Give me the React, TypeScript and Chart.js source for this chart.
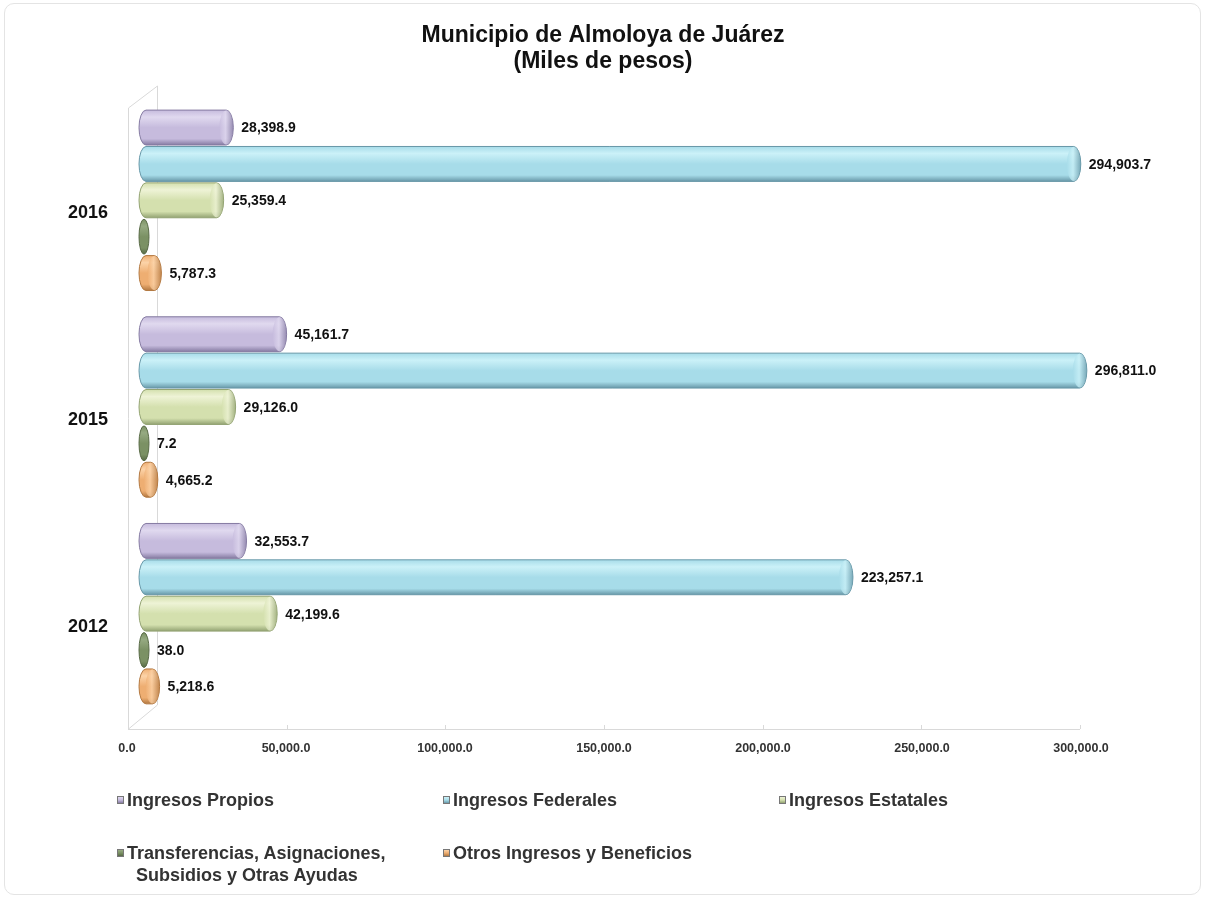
import React, { useEffect, useRef } from "react";
import { Chart, registerables } from "chart.js";

Chart.register(...registerables);

const categories = ["2016", "2015", "2012"];
const seriesNames = [
  "Ingresos Propios",
  "Ingresos Federales",
  "Ingresos Estatales",
  "Transferencias, Asignaciones, Subsidios y Otras Ayudas",
  "Otros Ingresos y Beneficios",
];
const ingresosPropios = [28398.9, 45161.7, 32553.7];
const ingresosFederales = [294903.7, 296811.0, 223257.1];
const ingresosEstatales = [25359.4, 29126.0, 42199.6];
const transferencias = [0, 7.2, 38.0];
const otrosIngresos = [5787.3, 4665.2, 5218.6];
const xTickValues = [0, 50000, 100000, 150000, 200000, 250000, 300000];

const palette = [
  { light: "#e0d9ef", mid: "#c6bbdd", dark: "#857ba2" },
  { light: "#cbf1f8", mid: "#a7dce9", dark: "#6898a8" },
  { light: "#eef3d6", mid: "#d4e0ae", dark: "#93a373" },
  { light: "#96aa82", mid: "#7b9164", dark: "#586a46" },
  { light: "#fcd3a8", mid: "#eeae72", dark: "#b37942" },
];

const fmt = (v: number) =>
  v.toLocaleString("en-US", { minimumFractionDigits: 1, maximumFractionDigits: 1 });

const FRONT_DX = -15;
const FRONT_DY = 12;
const BACK_DX = 14;
const BACK_DY = -11;

const cylinderPlugin = {
  id: "cylinders",
  beforeDatasetsDraw(chart: any) {
    const { ctx, chartArea: ca } = chart;
    const xs = chart.scales.x;
    ctx.save();
    ctx.strokeStyle = "#d9d9d9";
    ctx.lineWidth = 1;
    const fl = ca.left + FRONT_DX;
    const bl = ca.left + BACK_DX;
    ctx.beginPath();
    ctx.moveTo(fl + 0.5, ca.top - BACK_DY);
    ctx.lineTo(fl + 0.5, ca.bottom + FRONT_DY);
    ctx.moveTo(bl + 0.5, ca.top + BACK_DY);
    ctx.lineTo(bl + 0.5, ca.bottom - FRONT_DY);
    ctx.moveTo(fl + 0.5, ca.top - BACK_DY);
    ctx.lineTo(bl + 0.5, ca.top + BACK_DY);
    ctx.moveTo(fl + 0.5, ca.bottom + FRONT_DY);
    ctx.lineTo(bl + 0.5, ca.bottom - FRONT_DY);
    const fr = xs.getPixelForValue(300000) + FRONT_DX - 2;
    ctx.moveTo(fl, ca.bottom + FRONT_DY + 0.5);
    ctx.lineTo(fr, ca.bottom + FRONT_DY + 0.5);
    ctx.stroke();
    ctx.beginPath();
    xTickValues.forEach((v) => {
      const px = Math.round(xs.getPixelForValue(v) + FRONT_DX - (2 * v) / 300000) + 0.5;
      ctx.moveTo(px, ca.bottom + FRONT_DY);
      ctx.lineTo(px, ca.bottom + FRONT_DY - 4);
    });
    ctx.stroke();
    ctx.restore();
  },
  beforeDatasetDraw() {
    return false;
  },
  afterDatasetsDraw(chart: any) {
    const { ctx } = chart;
    chart.data.datasets.forEach((ds: any, di: number) => {
      const meta = chart.getDatasetMeta(di);
      const col = palette[di];
      meta.data.forEach((el: any, i: number) => {
        const { x, y, base, height } = el.getProps(["x", "y", "base", "height"], true);
        const h = height;
        const top = y - h / 2;
        const left = base - 4;
        const right = Math.max(x, base + 6);
        const rx = Math.min(7, (right - left) / 2);
        const ry = h / 2;
        ctx.save();
        ctx.beginPath();
        ctx.moveTo(left + rx, top);
        ctx.lineTo(right - rx, top);
        ctx.ellipse(right - rx, y, rx, ry, 0, -Math.PI / 2, Math.PI / 2);
        ctx.lineTo(left + rx, top + h);
        ctx.ellipse(left + rx, y, rx, ry, 0, Math.PI / 2, (3 * Math.PI) / 2);
        ctx.closePath();
        const g = ctx.createLinearGradient(0, top, 0, top + h);
        g.addColorStop(0, col.mid);
        g.addColorStop(0.2, col.light);
        g.addColorStop(0.5, col.mid);
        g.addColorStop(0.82, col.mid);
        g.addColorStop(1, col.dark);
        ctx.fillStyle = g;
        ctx.fill();
        ctx.strokeStyle = col.dark;
        ctx.lineWidth = 1;
        ctx.stroke();
        if (right - left > 2 * rx + 2) {
          ctx.beginPath();
          ctx.ellipse(right - rx, y, rx, ry - 0.5, 0, 0, Math.PI * 2);
          const cg = ctx.createLinearGradient(right - 2 * rx, 0, right, 0);
          cg.addColorStop(0, col.mid);
          cg.addColorStop(0.45, col.light);
          cg.addColorStop(1, col.dark);
          ctx.globalAlpha = 0.75;
          ctx.fillStyle = cg;
          ctx.fill();
          ctx.globalAlpha = 1;
        }
        ctx.restore();
        const v = ds.data[i];
        if (v !== 0) {
          ctx.save();
          ctx.font = "bold 14px 'Liberation Sans', Arial, sans-serif";
          ctx.fillStyle = "#111";
          ctx.textAlign = "left";
          ctx.textBaseline = "middle";
          ctx.fillText(fmt(v), right + 8, y + 1);
          ctx.restore();
        }
      });
    });
  },
};

const legendItems = [
  { s: 0, x: 117, y: 800 },
  { s: 1, x: 443, y: 800 },
  { s: 2, x: 779, y: 800 },
  { s: 3, x: 117, y: 853 },
  { s: 4, x: 443, y: 853 },
];

export default function App() {
  const canvasRef = useRef<HTMLCanvasElement | null>(null);

  useEffect(() => {
    const canvas = canvasRef.current;
    if (!canvas) return;
    const seriesData = [ingresosPropios, ingresosFederales, ingresosEstatales, transferencias, otrosIngresos];
    const chart = new Chart(canvas, {
      type: "bar",
      data: {
        labels: categories,
        datasets: seriesData.map((d, i) => ({
          label: seriesNames[i],
          data: d,
          backgroundColor: palette[i].mid,
          categoryPercentage: 0.88,
          barPercentage: 0.96,
        })),
      },
      options: {
        indexAxis: "y",
        responsive: false,
        maintainAspectRatio: false,
        animation: false,
        devicePixelRatio: 1,
        layout: { padding: { top: 0, right: 0, bottom: 144, left: 0 } },
        plugins: {
          legend: { display: false },
          tooltip: { enabled: false },
          title: {
            display: true,
            text: ["Municipio de Almoloya de Juárez", "(Miles de pesos)"],
            color: "#111",
            font: { family: "'Liberation Sans', Arial, sans-serif", size: 23, weight: "bold", lineHeight: 1.13 },
            padding: { top: 23, bottom: 22 },
          },
        },
        scales: {
          x: {
            type: "linear",
            min: 0,
            max: 300000,
            grid: { display: false, drawTicks: false },
            border: { display: false },
            afterBuildTicks: (s: any) => {
              s.ticks = xTickValues.map((v) => ({ value: v }));
            },
            afterFit: (s: any) => {
              s.height = 40;
            },
            ticks: {
              padding: 24,
              labelOffset: -16,
              maxRotation: 0,
              color: "#333",
              font: { family: "'Liberation Sans', Arial, sans-serif", size: 12.5, weight: "bold" },
              callback: (v: any) => fmt(Number(v)),
            },
          },
          y: {
            type: "category",
            grid: { display: false, drawTicks: false },
            border: { display: false },
            afterFit: (s: any) => {
              s.width = 143;
            },
            ticks: {
              padding: 35,
              labelOffset: 13,
              color: "#111",
              font: { family: "'Liberation Sans', Arial, sans-serif", size: 18, weight: "bold" },
            },
          },
          yRight: {
            type: "category",
            position: "right",
            grid: { display: false, drawTicks: false },
            border: { display: false },
            ticks: { display: false },
            afterFit: (s: any) => {
              s.width = 109;
            },
          },
        },
      } as any,
      plugins: [cylinderPlugin as any],
    });
    return () => chart.destroy();
  }, []);

  const legendFont = "bold 18px 'Liberation Sans', Arial, sans-serif";

  return (
    <div style={{ position: "fixed", left: 0, top: 0, width: 1206, height: 901, background: "#fff", overflow: "hidden" }}>
      <div
        style={{
          position: "absolute",
          left: 4,
          top: 3,
          width: 1197,
          height: 892,
          border: "1px solid #e4e4e4",
          borderRadius: 10,
          boxSizing: "border-box",
        }}
      />
      <canvas ref={canvasRef} width={1206} height={901} style={{ position: "absolute", left: 0, top: 0, width: 1206, height: 901 }} />
      {legendItems.map((it) => {
        const col = palette[it.s];
        const marker = (
          <div
            style={{
              position: "absolute",
              left: it.x,
              top: it.y - 4,
              width: 7,
              height: 8,
              boxSizing: "border-box",
              border: "1px solid #777",
              background: `linear-gradient(to bottom, ${col.light}, ${col.mid} 50%, ${col.dark})`,
            }}
          />
        );
        if (it.s === 3) {
          return (
            <React.Fragment key={it.s}>
              {marker}
              <div style={{ position: "absolute", left: it.x + 10, top: it.y - 11, font: legendFont, color: "#333", lineHeight: "22px", whiteSpace: "nowrap" }}>
                Transferencias, Asignaciones,
                <br />
                <span style={{ paddingLeft: 9 }}>Subsidios y Otras Ayudas</span>
              </div>
            </React.Fragment>
          );
        }
        return (
          <React.Fragment key={it.s}>
            {marker}
            <div style={{ position: "absolute", left: it.x + 10, top: it.y - 11, font: legendFont, color: "#333", lineHeight: "22px", whiteSpace: "nowrap" }}>
              {seriesNames[it.s]}
            </div>
          </React.Fragment>
        );
      })}
    </div>
  );
}
